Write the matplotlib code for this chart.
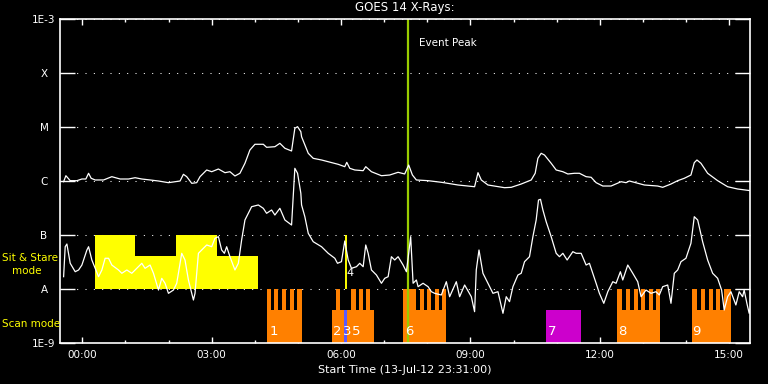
import numpy as np
import matplotlib
matplotlib.use("Agg")
import matplotlib.pyplot as plt

# time axis: hours since 14-Jul 00:00 (plot starts 13-Jul 23:31)
t_start = -31 / 60.0
t_end = t_start + 16.0

# GOES long channel (1-8 A), log10 flux
long_t = np.array([-0.433, -0.380, -0.280, -0.125, -0.009, 0.083, 0.146, 0.206, 0.299, 0.493,
                   0.685, 0.878, 1.072, 1.225, 1.380, 1.572, 1.767, 1.998, 2.267, 2.345,
                   2.422, 2.538, 2.653, 2.730, 2.885, 3.001, 3.156, 3.309, 3.424, 3.540,
                   3.656, 3.772, 3.887, 4.003, 4.198, 4.274, 4.466, 4.582, 4.698, 4.853,
                   4.929, 4.992, 5.068, 5.085, 5.240, 5.355, 5.548, 5.934, 6.087, 6.133,
                   6.203, 6.319, 6.513, 6.573, 6.705, 6.937, 7.129, 7.323, 7.476, 7.569,
                   7.655, 7.747, 8.018, 8.326, 8.713, 9.097, 9.176, 9.252, 9.407, 9.792,
                   9.947, 10.178, 10.410, 10.502, 10.565, 10.641, 10.718, 10.873, 10.989, 11.144,
                   11.260, 11.412, 11.528, 11.683, 11.799, 11.915, 12.070, 12.262, 12.494, 12.609,
                   12.686, 13.033, 13.343, 13.459, 13.651, 13.806, 13.959, 14.114, 14.191, 14.253,
                   14.346, 14.501, 14.733, 14.964, 15.196, 15.504])
long_log = np.array([-6.013, -5.902, -5.994, -5.994, -5.963, -5.963, -5.857, -5.950, -5.981, -5.981,
                     -5.920, -5.963, -5.963, -5.939, -5.963, -5.981, -6.000, -6.031, -6.000, -5.876,
                     -5.920, -6.043, -6.031, -5.920, -5.796, -5.828, -5.778, -5.846, -5.828, -5.907,
                     -5.857, -5.672, -5.426, -5.320, -5.320, -5.376, -5.365, -5.302, -5.394, -5.444,
                     -5.024, -4.994, -5.087, -5.180, -5.487, -5.580, -5.611, -5.691, -5.735, -5.654,
                     -5.765, -5.796, -5.809, -5.735, -5.828, -5.902, -5.889, -5.839, -5.870, -5.704,
                     -5.889, -5.981, -5.994, -6.024, -6.074, -6.106, -5.846, -5.981, -6.074, -6.124,
                     -6.117, -6.056, -5.981, -5.857, -5.580, -5.487, -5.519, -5.672, -5.796, -5.828,
                     -5.870, -5.857, -5.857, -5.920, -5.931, -6.031, -6.093, -6.093, -6.013, -6.031,
                     -6.000, -6.074, -6.093, -6.117, -6.056, -5.994, -5.950, -5.889, -5.661, -5.611,
                     -5.672, -5.857, -5.994, -6.106, -6.148, -6.180])

# GOES short channel (0.5-4 A), log10 flux
short_t = np.array([-0.433, -0.396, -0.357, -0.280, -0.164, -0.086, -0.009, 0.107, 0.146, 0.222,
                    0.299, 0.377, 0.454, 0.530, 0.609, 0.685, 0.840, 0.917, 1.033, 1.148,
                    1.264, 1.380, 1.456, 1.572, 1.651, 1.767, 1.843, 1.919, 1.998, 2.114,
                    2.190, 2.306, 2.382, 2.461, 2.577, 2.614, 2.693, 2.769, 2.885, 3.001,
                    3.077, 3.156, 3.232, 3.295, 3.348, 3.424, 3.540, 3.619, 3.695, 3.772,
                    3.927, 4.082, 4.198, 4.274, 4.390, 4.466, 4.582, 4.698, 4.853, 4.929,
                    4.992, 5.068, 5.085, 5.161, 5.240, 5.355, 5.548, 5.703, 5.856, 5.918,
                    6.010, 6.087, 6.166, 6.242, 6.358, 6.434, 6.513, 6.573, 6.629, 6.705,
                    6.821, 6.937, 7.013, 7.092, 7.168, 7.245, 7.323, 7.439, 7.516, 7.555,
                    7.615, 7.671, 7.747, 7.787, 7.902, 8.018, 8.095, 8.171, 8.326, 8.442,
                    8.518, 8.673, 8.750, 8.866, 9.021, 9.097, 9.136, 9.199, 9.291, 9.407,
                    9.523, 9.639, 9.755, 9.831, 9.907, 9.986, 10.102, 10.178, 10.255, 10.370,
                    10.449, 10.525, 10.579, 10.625, 10.681, 10.757, 10.873, 10.989, 11.065, 11.144,
                    11.243, 11.375, 11.452, 11.568, 11.683, 11.760, 11.838, 11.915, 11.991, 12.093,
                    12.186, 12.302, 12.378, 12.478, 12.533, 12.649, 12.765, 12.880, 12.957, 13.072,
                    13.188, 13.304, 13.380, 13.459, 13.575, 13.651, 13.728, 13.806, 13.883, 13.998,
                    14.114, 14.191, 14.270, 14.385, 14.501, 14.617, 14.733, 14.825, 14.885, 14.964,
                    15.041, 15.156, 15.233, 15.311, 15.348, 15.411, 15.464, 15.504])
short_log = np.array([-7.772, -7.217, -7.167, -7.524, -7.680, -7.648, -7.556, -7.278, -7.217, -7.463,
                      -7.617, -7.772, -7.648, -7.431, -7.431, -7.556, -7.648, -7.709, -7.648, -7.709,
                      -7.617, -7.524, -7.617, -7.556, -7.709, -8.019, -7.802, -7.894, -8.080, -8.019,
                      -7.894, -7.339, -7.463, -7.833, -8.204, -8.080, -7.339, -7.278, -7.185, -7.217,
                      -7.061, -7.031, -7.278, -7.339, -7.217, -7.402, -7.648, -7.524, -7.093, -6.722,
                      -6.476, -6.444, -6.506, -6.598, -6.537, -6.630, -6.506, -6.722, -6.815, -5.765,
                      -5.857, -6.228, -6.444, -6.661, -6.969, -7.124, -7.217, -7.339, -7.431, -7.524,
                      -7.494, -7.111, -7.463, -7.617, -7.587, -7.524, -7.587, -7.185, -7.339, -7.648,
                      -7.741, -7.894, -7.802, -7.772, -7.402, -7.463, -7.402, -7.556, -7.680, -7.431,
                      -7.031, -7.894, -7.833, -7.957, -7.894, -7.957, -8.050, -8.080, -8.111, -7.865,
                      -8.143, -7.865, -8.143, -7.926, -8.143, -8.420, -7.648, -7.278, -7.709, -7.894,
                      -8.080, -8.050, -8.450, -8.143, -8.235, -7.957, -7.741, -7.709, -7.494, -7.402,
                      -7.031, -6.722, -6.352, -6.339, -6.537, -6.754, -7.031, -7.339, -7.402, -7.339,
                      -7.463, -7.309, -7.339, -7.339, -7.556, -7.524, -7.709, -7.894, -8.080, -8.265,
                      -8.050, -7.865, -7.894, -7.680, -7.833, -7.556, -7.709, -7.865, -8.143, -8.019,
                      -8.080, -8.050, -8.111, -7.957, -7.926, -8.265, -7.709, -7.648, -7.494, -7.431,
                      -7.154, -6.661, -6.722, -7.124, -7.463, -7.709, -7.802, -8.019, -8.389, -8.143,
                      -8.050, -8.296, -8.050, -8.143, -8.019, -8.265, -8.450, -8.328])

# Sit & Stare observations
ss_start = [0.299, 1.225, 2.167, 3.116]
ss_end = [1.225, 2.167, 3.116, 4.065]
ss_top = [1e-7, 4.1e-8, 1e-7, 4.1e-8]

# Scan mode observations: base spans and raster teeth
scan_start = [4.274, 5.779, 7.439, 12.401, 14.138]
scan_end = [5.101, 6.768, 8.442, 13.397, 15.041]
teeth_start = [4.274, 4.452, 4.629, 4.806, 4.985,
               5.879, 6.220, 6.410, 6.590,
               7.439, 7.824, 8.002, 8.180, 8.349,
               12.401, 12.609, 12.788, 12.963, 13.142, 13.311,
               14.138, 14.346, 14.524, 14.700, 14.878]
teeth_end = [4.367, 4.545, 4.721, 4.899, 5.101,
             5.987, 6.340, 6.510, 6.680,
             7.731, 7.916, 8.095, 8.273, 8.442,
             12.524, 12.695, 12.881, 13.049, 13.228, 13.397,
             14.260, 14.439, 14.617, 14.793, 15.041]
blue_span = (6.060, 6.130)
purple_span = (10.757, 11.568)
scan_labels = ["1", "2", "3", "5", "6", "7", "8", "9"]
scan_label_t = [4.34, 5.82, 6.04, 6.26, 7.48, 10.80, 12.43, 14.15]

event_peak = 7.56
yellow_mark = 6.111

y_levels = [1e-9, 1e-8, 1e-7, 1e-6, 1e-5, 1e-4, 1e-3]
y_labels = ["1E-9", "A", "B", "C", "M", "X", "1E-3"]
x_major = [0, 3, 6, 9, 12, 15]
x_labels = ["00:00", "03:00", "06:00", "09:00", "12:00", "15:00"]

scan_low = 4.1e-9
level_a = 1e-8

fig = plt.figure(figsize=(7.68, 3.84), dpi=100, facecolor="black")
ax = fig.add_axes([60 / 768, 1 - 343 / 384, 690 / 768, 324 / 384])
ax.set_facecolor("black")
ax.set_yscale("log")
ax.set_xlim(t_start, t_end)
ax.set_ylim(1e-9, 1e-3)

for s in ax.spines.values():
    s.set_color("white")
    s.set_linewidth(1.2)

ax.set_yticks(y_levels)
ax.set_yticklabels(y_labels)
ax.yaxis.set_minor_locator(matplotlib.ticker.NullLocator())
ax.tick_params(axis="y", direction="in", length=10.5, width=1, colors="white",
               right=True, labelsize=7.5, pad=11.5)
for lab in ax.get_yticklabels():
    lab.set_horizontalalignment("center")

ax.set_xticks(x_major)
ax.set_xticklabels(x_labels)
ax.set_xticks(np.arange(0, 16), minor=True)
ax.tick_params(axis="x", which="major", direction="in", length=4.5, width=1,
               colors="white", top=True, labelsize=7.5, pad=5)
ax.tick_params(axis="x", which="minor", direction="in", length=2.5, width=1,
               colors="white", top=True)

ax.set_axisbelow(True)
ax.grid(axis="y", which="major", color="white", linestyle=(0, (1, 7)), lw=0.75)

# Sit & Stare blocks
for a, b, top in zip(ss_start, ss_end, ss_top):
    ax.bar(a, top - level_a, width=b - a, bottom=level_a, align="edge",
           color="#ffff00", linewidth=0, zorder=1)

# Scan blocks
for a, b in zip(scan_start, scan_end):
    ax.bar(a, scan_low - 1e-9, width=b - a, bottom=1e-9, align="edge",
           color="#ff8000", linewidth=0, zorder=1)
for a, b in zip(teeth_start, teeth_end):
    ax.bar(a, level_a - 1e-9, width=b - a, bottom=1e-9, align="edge",
           color="#ff8000", linewidth=0, zorder=1)
ax.bar(blue_span[0], scan_low - 1e-9, width=blue_span[1] - blue_span[0], bottom=1e-9,
       align="edge", color="#5a5aff", linewidth=0, zorder=1.5)
ax.bar(purple_span[0], scan_low - 1e-9, width=purple_span[1] - purple_span[0], bottom=1e-9,
       align="edge", color="#cc00cc", linewidth=0, zorder=1)

ax.axvline(event_peak, color="#99cc00", lw=1.6, zorder=2)
ax.vlines(yellow_mark, 1e-8, 1e-7, color="#ffff00", lw=1.4, zorder=2)

ax.plot(long_t, 10 ** long_log, color="white", lw=0.9, zorder=3)
ax.plot(short_t, 10 ** short_log, color="white", lw=0.9, zorder=3)

for lab, t in zip(scan_labels, scan_label_t):
    ax.text(t, 10 ** -8.796, lab, color="white", fontsize=9.5, ha="left", va="center", zorder=4)
ax.text(6.219, 10 ** -7.704, "4", color="white", fontsize=8, ha="center", va="center", zorder=4)
ax.text(event_peak + 0.25, 10 ** -3.45, "Event Peak", color="white", fontsize=7.5,
        ha="left", va="center")

fig.text(405 / 768, 1 - 8 / 384, "GOES 14 X-Rays:", color="white", fontsize=8.5,
         ha="center", va="center")
fig.text(405 / 768, 1 - 370 / 384, "Start Time (13-Jul-12 23:31:00)", color="white",
         fontsize=8, ha="center", va="center")
fig.text(2 / 768, 1 - 258 / 384, "Sit & Stare", color="#ffff00", fontsize=7.5,
         ha="left", va="center")
fig.text(12 / 768, 1 - 271 / 384, "mode", color="#ffff00", fontsize=7.5,
         ha="left", va="center")
fig.text(2 / 768, 1 - 324 / 384, "Scan mode", color="#ffff00", fontsize=7.5,
         ha="left", va="center")

fig.savefig("out.png", dpi=100, facecolor="black")
